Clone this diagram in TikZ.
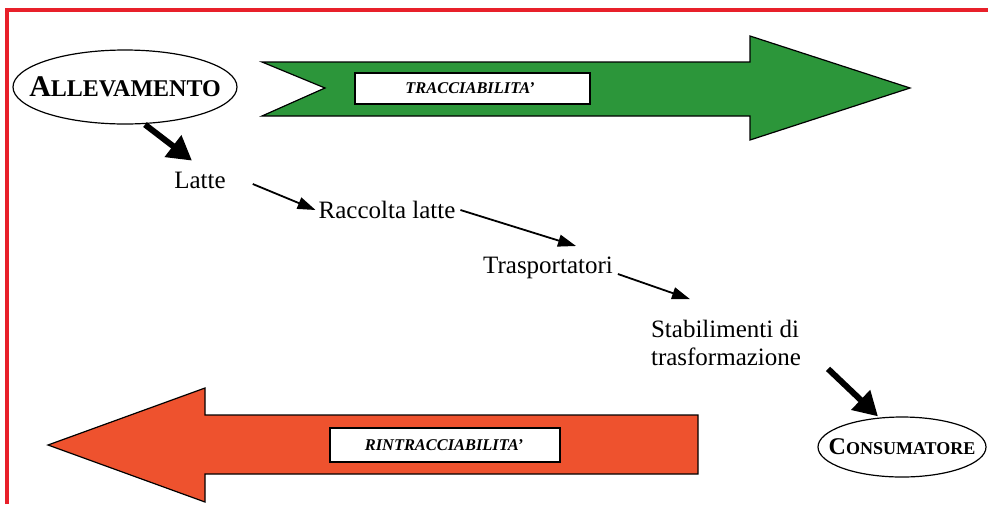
\documentclass[tikz,border=0pt]{standalone}
\usepackage{fontspec}
\setmainfont{Liberation Serif}
\usetikzlibrary{arrows.meta,shapes.geometric}
\definecolor{verde}{RGB}{44,150,58}
\definecolor{rosso}{RGB}{238,82,46}
\definecolor{cornice}{RGB}{232,32,42}
\begin{document}
\begin{tikzpicture}[x=0.5pt, y=-0.5pt, font=\fontsize{12.5}{14}\selectfont,
	ovale/.style={ellipse, draw, line width=0.6pt},
	freccina/.style={line width=0.9pt, -{Triangle[length=9pt, width=6pt]}},
	freccione/.style={line width=3pt, -{Triangle[length=12pt, width=13pt]}},
	etichetta/.style={font=\fontsize{8.2}{9}\selectfont\bfseries\itshape}]
				\useasboundingbox (0,0) rectangle (988,504);
				\draw[cornice, line width=1.6pt] (7,504)--(7,10)--(988,10);
				% frecce grandi
				\draw[fill=verde, line width=0.6pt] (262,62)--(750,62)--(750,36)--(910,88)--(750,140)--(750,116)--(262,116)--(325,88)--cycle;
				\draw[fill=white, line width=0.6pt] (355,73) rectangle (590,104);
				\node[etichetta] (tracc) at (470,88.5) {TRACCIABILITA'};
				\draw[fill=rosso, line width=0.6pt] (48,445)--(205,388)--(205,415)--(698,415)--(698,474)--(205,474)--(205,502)--cycle;
				\draw[fill=white, line width=0.6pt] (330,428) rectangle (560,462);
				\node[etichetta] (rintr) at (444,445) {RINTRACCIABILITA'};
				% filiera
				\node[ovale, inner sep=-9pt, minimum width=112pt, minimum height=37pt] (alle) at (125,87) {\bfseries{\fontsize{15}{15}\selectfont A}{\fontsize{12}{12}\selectfont LLEVAMENTO}};
				\node[ovale, inner sep=-7pt, minimum width=84pt, minimum height=30pt] (cons) at (902,447) {\bfseries{\fontsize{12}{12}\selectfont C}{\fontsize{9}{9}\selectfont ONSUMATORE}};
				\node (latte) at (200,180) {Latte};
				\node (racc) at (387,210) {Raccolta latte};
				\node (trasp) at (548,268) {Trasportatori};
				\node[align=left] (stab) at (726,343) {Stabilimenti di\\trasformazione};
				\draw[freccione] ([xshift=10pt]alle.south)--([xshift=-4pt,yshift=2pt]latte.north);
				\draw[freccina] ([xshift=10pt,yshift=-2pt]latte.east)--([xshift=2pt]racc.west);
				\draw[freccina] ([xshift=-1pt]racc.east)--([xshift=14pt,yshift=2pt]trasp.north);
				\draw[freccina] ([xshift=-1pt,yshift=-3pt]trasp.east)--([xshift=-18pt,yshift=7pt]stab.north);
				\draw[freccione] ([xshift=10pt,yshift=2pt]stab.south east)--([xshift=-12pt]cons.north);
			\end{tikzpicture}
\end{document}
